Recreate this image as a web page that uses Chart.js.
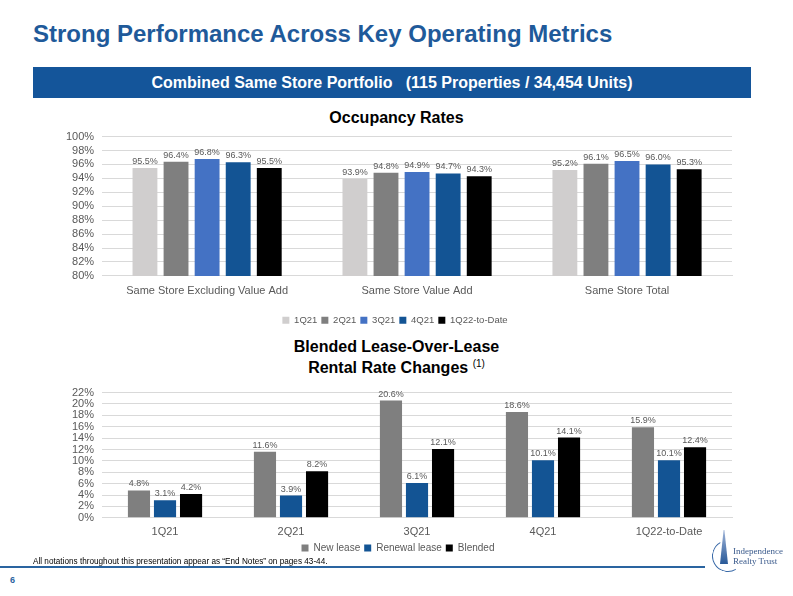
<!DOCTYPE html>
<html>
<head>
<meta charset="utf-8">
<script src="https://cdn.jsdelivr.net/npm/chart.js@4"></script>
<style>
  body { margin: 0; width: 793px; height: 596px; background: #fff; position: relative; overflow: hidden; font-family: "Liberation Sans", Arial, sans-serif; }
  .abs { position: absolute; }
  #title { left: 33px; top: 20px; font-size: 24px; font-weight: bold; color: #1f5a9a; white-space: nowrap; }
  #band { left: 33px; top: 67px; width: 718px; height: 31px; background: #14559a; color: #fff; font-weight: bold; font-size: 16px; text-align: center; line-height: 31px; white-space: pre; }
  .ctitle { font-weight: bold; font-size: 16px; color: #000; text-align: center; width: 793px; left: 0; line-height: 17px; }
  .ctitle sup { font-size: 10px; font-weight: normal; vertical-align: 6px; }
  #note { left: 33px; top: 557px; font-size: 8.2px; color: #000; }
  #rule { left: 0; top: 566px; width: 705px; height: 2px; background: #2a64a0; }
  #pg { left: 10px; top: 575px; font-size: 9px; font-weight: bold; color: #2a64a0; }
  #logo { left: 733px; top: 546px; font-family: "Liberation Serif", serif; font-size: 9px; color: #3a5a8c; line-height: 10px; }
  #ring { left: 712px; top: 540px; width: 30px; height: 30px; border-radius: 50%; border: 1.5px solid transparent; border-left-color: #3a6aa8; border-bottom-color: #3a6aa8; transform: rotate(15deg); }
  #spire { left: 720px; top: 530px; width: 8px; height: 34px; background: linear-gradient(#9fb4d8, #2a5a98); clip-path: polygon(45% 0, 55% 0, 100% 100%, 0 100%); }
</style>
</head>
<body>
<div id="title" class="abs">Strong Performance Across Key Operating Metrics</div>
<div id="band" class="abs">Combined Same Store Portfolio   (115 Properties / 34,454 Units)</div>
<div class="abs ctitle" style="top:109px;">Occupancy Rates</div>
<div class="abs" style="left:30px; top:122px; width:720px; height:213px;"><canvas id="occ"></canvas></div>
<div class="abs ctitle" style="top:338px;">Blended Lease-Over-Lease<br>Rental Rate Changes <sup>(1)</sup></div>
<div class="abs" style="left:30px; top:378px; width:720px; height:185px;"><canvas id="lease"></canvas></div>
<div id="note" class="abs">All notations throughout this presentation appear as “End Notes” on pages 43-44.</div>
<div id="rule" class="abs"></div>
<div id="pg" class="abs">6</div>
<div id="ring" class="abs"></div>
<div id="spire" class="abs"></div>
<div id="logo" class="abs">Independence<br>Realty Trust</div>
<script>
// occupancy chart
const occCategories = ['Same Store Excluding Value Add', 'Same Store Value Add', 'Same Store Total'];
const occ1Q21 = [95.5, 93.9, 95.2];
const occ2Q21 = [96.4, 94.8, 96.1];
const occ3Q21 = [96.8, 94.9, 96.5];
const occ4Q21 = [96.3, 94.7, 96.0];
const occ1Q22 = [95.5, 94.3, 95.3];
const occTicks = [80, 100, 2];

// lease-over-lease chart
const leaseCategories = ['1Q21', '2Q21', '3Q21', '4Q21', '1Q22-to-Date'];
const newLease = [4.8, 11.6, 20.6, 18.6, 15.9];
const renewalLease = [3.1, 3.9, 6.1, 10.1, 10.1];
const blended = [4.2, 8.2, 12.1, 14.1, 12.4];
const leaseTicks = [0, 22, 2];

Chart.defaults.font.family = '"Liberation Sans", Arial, sans-serif';
Chart.defaults.color = '#595959';

// labels on top of bars
const barLabels = {
  id: 'barLabels',
  afterDatasetsDraw(chart) {
    const ctx = chart.ctx;
    ctx.save();
    ctx.font = '9px "Liberation Sans", Arial, sans-serif';
    ctx.fillStyle = '#595959';
    ctx.textAlign = 'center';
    ctx.textBaseline = 'bottom';
    chart.data.datasets.forEach((ds, i) => {
      chart.getDatasetMeta(i).data.forEach((bar, j) => {
        ctx.fillText(ds.data[j].toFixed(1) + '%', bar.x, bar.y - 2);
      });
    });
    ctx.restore();
  }
};

// gapBelow: empty x-axis title used as spacer between tick labels and legend
function makeOpts(ticks, catPct, barPct, padLeft, legendPad, legendFont, gapBelow) {
  return {
    responsive: true,
    maintainAspectRatio: false,
    animation: false,
    layout: { padding: { left: padLeft, right: 18, top: 8, bottom: 0 } },
    datasets: { bar: { categoryPercentage: catPct, barPercentage: barPct } },
    scales: {
      x: {
        grid: { display: false },
        border: { color: '#d9d9d9' },
        title: { display: gapBelow > 0, text: '', padding: 0, font: { size: gapBelow } },
        ticks: { font: { size: 11 }, color: '#595959', padding: 0, autoSkip: false, maxRotation: 0 }
      },
      y: {
        min: ticks[0], max: ticks[1],
        grid: { color: '#d9d9d9', drawTicks: false },
        border: { display: false },
        ticks: { stepSize: ticks[2], autoSkip: false, font: { size: 11 }, color: '#595959', padding: 8,
                 callback: v => v + '%' }
      }
    },
    plugins: {
      legend: {
        position: 'bottom',
        labels: { boxWidth: 7, boxHeight: 7, font: { size: legendFont }, color: '#595959', padding: legendPad }
      },
      tooltip: { enabled: false }
    }
  };
}

new Chart(document.getElementById('occ'), {
  type: 'bar',
  data: {
    labels: occCategories,
    datasets: [
      { label: '1Q21', data: occ1Q21, backgroundColor: '#d0cece' },
      { label: '2Q21', data: occ2Q21, backgroundColor: '#7f7f7f' },
      { label: '3Q21', data: occ3Q21, backgroundColor: '#4472c4' },
      { label: '4Q21', data: occ4Q21, backgroundColor: '#135494' },
      { label: '1Q22-to-Date', data: occ1Q22, backgroundColor: '#000000' }
    ]
  },
  options: makeOpts(occTicks, 0.74, 0.8, 28, 4, 9.5, 12),
  plugins: [barLabels]
});

new Chart(document.getElementById('lease'), {
  type: 'bar',
  data: {
    labels: leaseCategories,
    datasets: [
      { label: 'New lease', data: newLease, backgroundColor: '#7f7f7f' },
      { label: 'Renewal lease', data: renewalLease, backgroundColor: '#135494' },
      { label: 'Blended', data: blended, backgroundColor: '#000000' }
    ]
  },
  options: makeOpts(leaseTicks, 0.62, 0.85, 34, 4, 10, 0),
  plugins: [barLabels]
});
</script>
</body>
</html>
